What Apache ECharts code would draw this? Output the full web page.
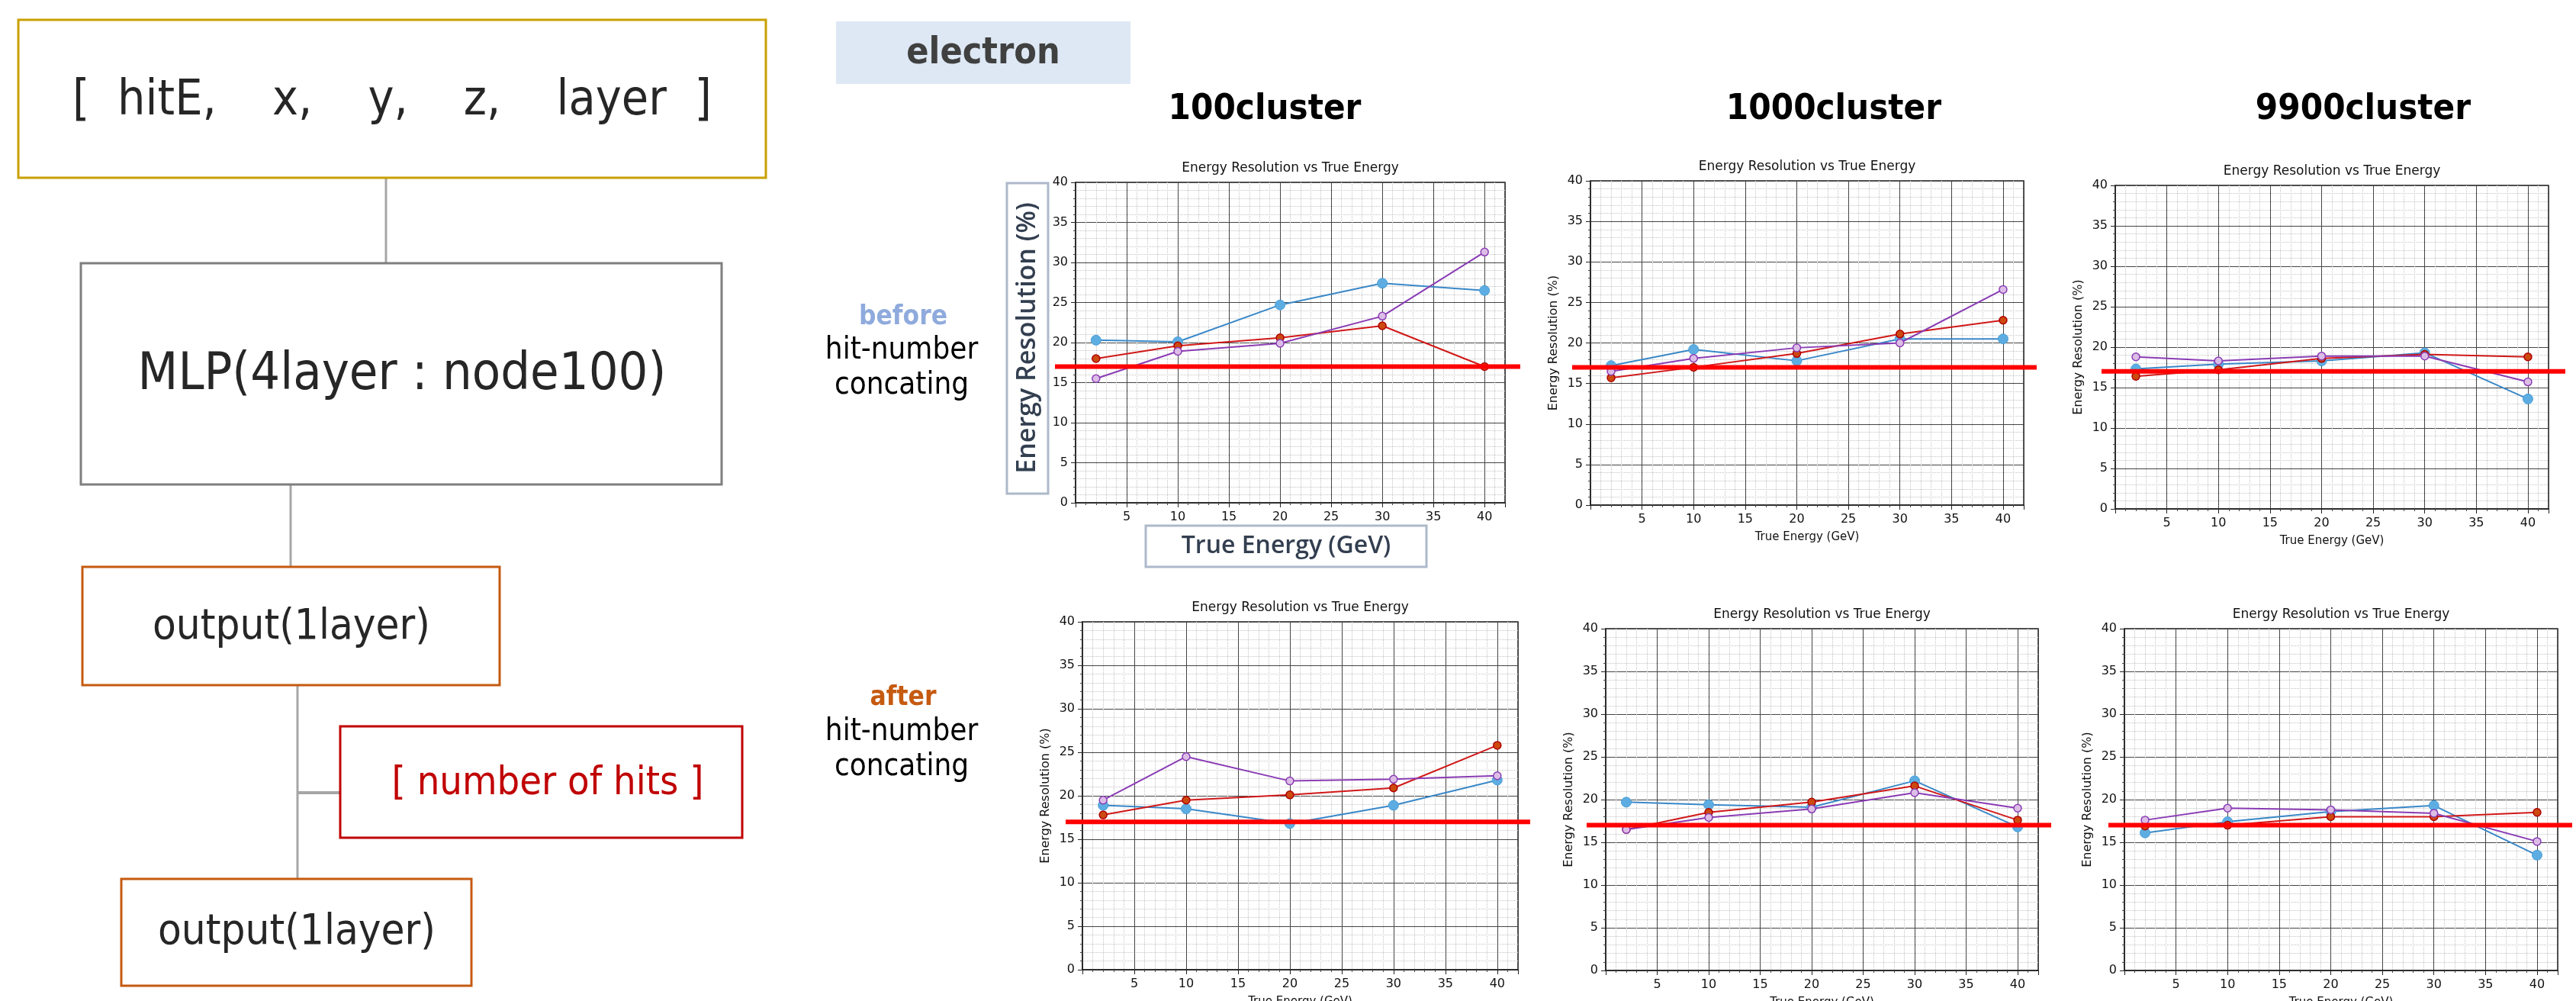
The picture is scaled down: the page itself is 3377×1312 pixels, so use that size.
<!doctype html>
<html>
<head>
<meta charset="utf-8">
<style>
html, body { margin: 0; padding: 0; background: #fff; }
#main { width: 3377px; height: 1312px; }
</style>
</head>
<body>
<div id="main"></div>
<script src="https://cdn.jsdelivr.net/npm/echarts@6/dist/echarts.min.js"></script>
<script>
var chart = echarts.init(document.getElementById('main'));

// true energy points (GeV)
var energies = [2, 10, 20, 30, 40];
// reference resolution drawn as the red line (%)
var target = 17;

var columnTitles = ['100cluster', '1000cluster', '9900cluster'];

// before hit-number concating
var before100Blue = [20.3, 20.1, 24.7, 27.4, 26.5];
var before100Red = [18.0, 19.6, 20.6, 22.1, 17.0];
var before100Purple = [15.5, 18.9, 19.9, 23.3, 31.3];

var before1000Blue = [17.2, 19.2, 17.8, 20.5, 20.5];
var before1000Red = [15.7, 17.0, 18.7, 21.1, 22.8];
var before1000Purple = [16.5, 18.1, 19.4, 20.0, 26.6];

var before9900Blue = [17.3, 17.9, 18.3, 19.3, 13.6];
var before9900Red = [16.4, 17.2, 18.6, 19.1, 18.8];
var before9900Purple = [18.8, 18.3, 18.9, 18.9, 15.7];

// after hit-number concating
var after100Blue = [18.9, 18.5, 16.8, 18.9, 21.8];
var after100Red = [17.8, 19.5, 20.1, 20.9, 25.8];
var after100Purple = [19.5, 24.5, 21.7, 21.9, 22.3];

var after1000Blue = [19.7, 19.4, 19.1, 22.2, 16.8];
var after1000Red = [16.5, 18.5, 19.7, 21.6, 17.6];
var after1000Purple = [16.5, 17.9, 18.9, 20.8, 19.0];

var after9900Blue = [16.1, 17.4, 18.6, 19.3, 13.5];
var after9900Red = [16.9, 17.0, 18.0, 18.0, 18.5];
var after9900Purple = [17.6, 19.0, 18.8, 18.4, 15.1];

var slideFont = "'Liberation Sans Narrow', 'DejaVu Sans Condensed', sans-serif";
var plotFont = "'DejaVu Sans', sans-serif";

var panels = [
    { left: 1410, top: 239, width: 563, height: 420, lineFrom: 1383, lineTo: 1993, blue: before100Blue, red: before100Red, purple: before100Purple },
    { left: 2085, top: 237, width: 568, height: 425, lineFrom: 2061, lineTo: 2670, blue: before1000Blue, red: before1000Red, purple: before1000Purple },
    { left: 2773, top: 243, width: 568, height: 424, lineFrom: 2755, lineTo: 3363, blue: before9900Blue, red: before9900Red, purple: before9900Purple },
    { left: 1419, top: 815, width: 571, height: 456, lineFrom: 1397, lineTo: 2006, blue: after100Blue, red: after100Red, purple: after100Purple },
    { left: 2105, top: 824, width: 567, height: 448, lineFrom: 2080, lineTo: 2689, blue: after1000Blue, red: after1000Red, purple: after1000Purple },
    { left: 2785, top: 824, width: 568, height: 448, lineFrom: 2764, lineTo: 3372, blue: after9900Blue, red: after9900Red, purple: after9900Purple }
];

function pairs(values) {
    return values.map(function (v, i) { return [energies[i], v]; });
}

var grids = [], xAxes = [], yAxes = [], series = [], graphics = [];

panels.forEach(function (p, k) {
    grids.push({
        left: p.left, top: p.top, width: p.width, height: p.height,
        show: true, borderColor: '#222', borderWidth: 1.5,
        outerBoundsMode: 'none'
    });
    xAxes.push({
        gridIndex: k, type: 'value', min: 0, max: 42, interval: 5,
        name: 'True Energy (GeV)', nameLocation: 'middle', nameGap: 35,
        nameTextStyle: { fontSize: 15, fontFamily: plotFont, color: '#111' },
        axisLine: { show: true, onZero: false, lineStyle: { color: '#222', width: 1.5 } },
        axisTick: { show: true, length: 6, lineStyle: { color: '#222' } },
        minorTick: { show: true, splitNumber: 5, length: 3, lineStyle: { color: '#444' } },
        axisLabel: {
            fontSize: 16, fontFamily: plotFont, color: '#111', margin: 11,
            formatter: function (v) { return (v > 0 && v <= 40 && v % 5 === 0) ? String(v) : ''; }
        },
        splitLine: { show: true, lineStyle: { color: '#444', width: 1 } },
        minorSplitLine: { show: true, lineStyle: { color: '#c4c4c4', width: 1, type: 'dotted' } }
    });
    yAxes.push({
        gridIndex: k, type: 'value', min: 0, max: 40, interval: 5,
        name: 'Energy Resolution (%)', nameLocation: 'middle', nameGap: 40, nameRotate: 90,
        nameTextStyle: { fontSize: 16, fontFamily: plotFont, color: '#111' },
        axisLine: { show: true, lineStyle: { color: '#222', width: 1.5 } },
        axisTick: { show: true, length: 6, lineStyle: { color: '#222' } },
        minorTick: { show: true, splitNumber: 5, length: 3, lineStyle: { color: '#444' } },
        axisLabel: { fontSize: 16, fontFamily: plotFont, color: '#111', margin: 10 },
        splitLine: { show: true, lineStyle: { color: '#444', width: 1 } },
        minorSplitLine: { show: true, lineStyle: { color: '#c4c4c4', width: 1, type: 'dotted' } }
    });
    series.push({
        type: 'line', xAxisIndex: k, yAxisIndex: k, data: pairs(p.blue),
        symbol: 'circle', symbolSize: 13, showSymbol: true, z: 3,
        lineStyle: { color: '#3a88c8', width: 2 },
        itemStyle: { color: '#5dade2', borderColor: '#4a9ed6', borderWidth: 1 }
    });
    series.push({
        type: 'line', xAxisIndex: k, yAxisIndex: k, data: pairs(p.red),
        symbol: 'circle', symbolSize: 10, showSymbol: true, z: 4,
        lineStyle: { color: '#d01818', width: 2 },
        itemStyle: { color: '#cc4a10', borderColor: '#b00000', borderWidth: 1.5 }
    });
    series.push({
        type: 'line', xAxisIndex: k, yAxisIndex: k, data: pairs(p.purple),
        symbol: 'circle', symbolSize: 10, showSymbol: true, z: 5,
        lineStyle: { color: '#8a3cb4', width: 2 },
        itemStyle: { color: '#dcbde6', borderColor: '#8a3cb4', borderWidth: 1.5 }
    });
    graphics.push({
        type: 'text', x: p.left + p.width / 2, y: p.top - 18, z: 10,
        style: { text: 'Energy Resolution vs True Energy', fontSize: 17, fontFamily: plotFont,
                 fill: '#111', align: 'center', verticalAlign: 'middle' }
    });
});

// red reference line: an extra hidden grid per panel, wider than the plot
panels.forEach(function (p) {
    var g = grids.length;
    grids.push({ left: p.lineFrom, top: p.top, width: p.lineTo - p.lineFrom, height: p.height, outerBoundsMode: 'none' });
    xAxes.push({ gridIndex: g, type: 'value', min: 0, max: 1, show: false });
    yAxes.push({ gridIndex: g, type: 'value', min: 0, max: 40, show: false });
    series.push({
        type: 'line', xAxisIndex: g, yAxisIndex: g, data: [[0, target], [1, target]],
        symbol: 'none', z: 8, lineStyle: { color: '#ff0000', width: 6 }
    });
});

// left side: network diagram
var boxLine = '#a6a6a6';
graphics.push(
    { type: 'line', shape: { x1: 506, y1: 233, x2: 506, y2: 345 }, style: { stroke: boxLine, lineWidth: 3 } },
    { type: 'line', shape: { x1: 381, y1: 635, x2: 381, y2: 743 }, style: { stroke: boxLine, lineWidth: 3 } },
    { type: 'line', shape: { x1: 390, y1: 898, x2: 390, y2: 1152 }, style: { stroke: boxLine, lineWidth: 3 } },
    { type: 'line', shape: { x1: 390, y1: 1039, x2: 446, y2: 1039 }, style: { stroke: boxLine, lineWidth: 4 } },
    { type: 'rect', shape: { x: 24, y: 26, width: 980, height: 207 }, style: { fill: '#fff', stroke: '#c9a000', lineWidth: 3 } },
    { type: 'rect', shape: { x: 106, y: 345, width: 840, height: 290 }, style: { fill: '#fff', stroke: '#7f7f7f', lineWidth: 3 } },
    { type: 'rect', shape: { x: 108, y: 743, width: 547, height: 155 }, style: { fill: '#fff', stroke: '#c55a11', lineWidth: 3 } },
    { type: 'rect', shape: { x: 446, y: 952, width: 527, height: 146 }, style: { fill: '#fff', stroke: '#c00000', lineWidth: 3 } },
    { type: 'rect', shape: { x: 159, y: 1152, width: 459, height: 140 }, style: { fill: '#fff', stroke: '#c55a11', lineWidth: 3 } },
    { type: 'text', x: 514, y: 133, style: { text: '[  hitE,    x,    y,    z,    layer  ]', fontSize: 64, fontFamily: slideFont, fill: '#262626', align: 'center', verticalAlign: 'middle' } },
    { type: 'text', x: 527, y: 492, style: { text: 'MLP(4layer : node100)', fontSize: 68, fontFamily: slideFont, fill: '#262626', align: 'center', verticalAlign: 'middle' } },
    { type: 'text', x: 382, y: 822, style: { text: 'output(1layer)', fontSize: 56, fontFamily: slideFont, fill: '#262626', align: 'center', verticalAlign: 'middle' } },
    { type: 'text', x: 718, y: 1027, style: { text: '[ number of hits ]', fontSize: 52, fontFamily: slideFont, fill: '#c00000', align: 'center', verticalAlign: 'middle' } },
    { type: 'text', x: 389, y: 1222, style: { text: 'output(1layer)', fontSize: 56, fontFamily: slideFont, fill: '#262626', align: 'center', verticalAlign: 'middle' } }
);

// right side: headings and row labels
graphics.push(
    { type: 'rect', shape: { x: 1096, y: 28, width: 386, height: 82 }, style: { fill: '#dde8f4' } },
    { type: 'text', x: 1289, y: 71, style: { text: 'electron', fontSize: 48, fontWeight: 'bold', fontFamily: slideFont, fill: '#404040', align: 'center', verticalAlign: 'middle' } },
    { type: 'text', x: 1658, y: 144, style: { text: columnTitles[0], fontSize: 47, fontWeight: 'bold', fontFamily: slideFont, fill: '#000', align: 'center', verticalAlign: 'middle' } },
    { type: 'text', x: 2404, y: 144, style: { text: columnTitles[1], fontSize: 47, fontWeight: 'bold', fontFamily: slideFont, fill: '#000', align: 'center', verticalAlign: 'middle' } },
    { type: 'text', x: 3098, y: 144, style: { text: columnTitles[2], fontSize: 47, fontWeight: 'bold', fontFamily: slideFont, fill: '#000', align: 'center', verticalAlign: 'middle' } },
    { type: 'text', x: 1184, y: 416, style: { text: 'before', fontSize: 35, fontWeight: 'bold', fontFamily: slideFont, fill: '#8faadc', align: 'center', verticalAlign: 'middle' } },
    { type: 'text', x: 1182, y: 460, style: { text: 'hit-number', fontSize: 40, fontFamily: slideFont, fill: '#000', align: 'center', verticalAlign: 'middle' } },
    { type: 'text', x: 1182, y: 506, style: { text: 'concating', fontSize: 40, fontFamily: slideFont, fill: '#000', align: 'center', verticalAlign: 'middle' } },
    { type: 'text', x: 1184, y: 915, style: { text: 'after', fontSize: 35, fontWeight: 'bold', fontFamily: slideFont, fill: '#c55a11', align: 'center', verticalAlign: 'middle' } },
    { type: 'text', x: 1182, y: 960, style: { text: 'hit-number', fontSize: 40, fontFamily: slideFont, fill: '#000', align: 'center', verticalAlign: 'middle' } },
    { type: 'text', x: 1182, y: 1006, style: { text: 'concating', fontSize: 40, fontFamily: slideFont, fill: '#000', align: 'center', verticalAlign: 'middle' } }
);

// enlarged axis captions laid over the first panel
graphics.push(
    { type: 'rect', z: 100, shape: { x: 1320, y: 240, width: 54, height: 407 }, style: { fill: '#fff', stroke: '#adb9ca', lineWidth: 3 } },
    { type: 'text', z: 101, x: 1347, y: 443, rotation: Math.PI / 2,
      style: { text: 'Energy Resolution (%)', fontSize: 34, fontWeight: 600, fontFamily: "'Open Sans', sans-serif", fill: '#333f50', align: 'center', verticalAlign: 'middle' } },
    { type: 'rect', z: 100, shape: { x: 1502, y: 689, width: 368, height: 54 }, style: { fill: '#fff', stroke: '#adb9ca', lineWidth: 3 } },
    { type: 'text', z: 101, x: 1686, y: 716,
      style: { text: 'True Energy (GeV)', fontSize: 32, fontWeight: 600, fontFamily: "'Open Sans', sans-serif", fill: '#333f50', align: 'center', verticalAlign: 'middle' } }
);

chart.setOption({
    animation: false,
    backgroundColor: '#fff',
    grid: grids,
    xAxis: xAxes,
    yAxis: yAxes,
    series: series,
    graphic: graphics
});

window.onresize = chart.resize;
</script>
</body>
</html>
